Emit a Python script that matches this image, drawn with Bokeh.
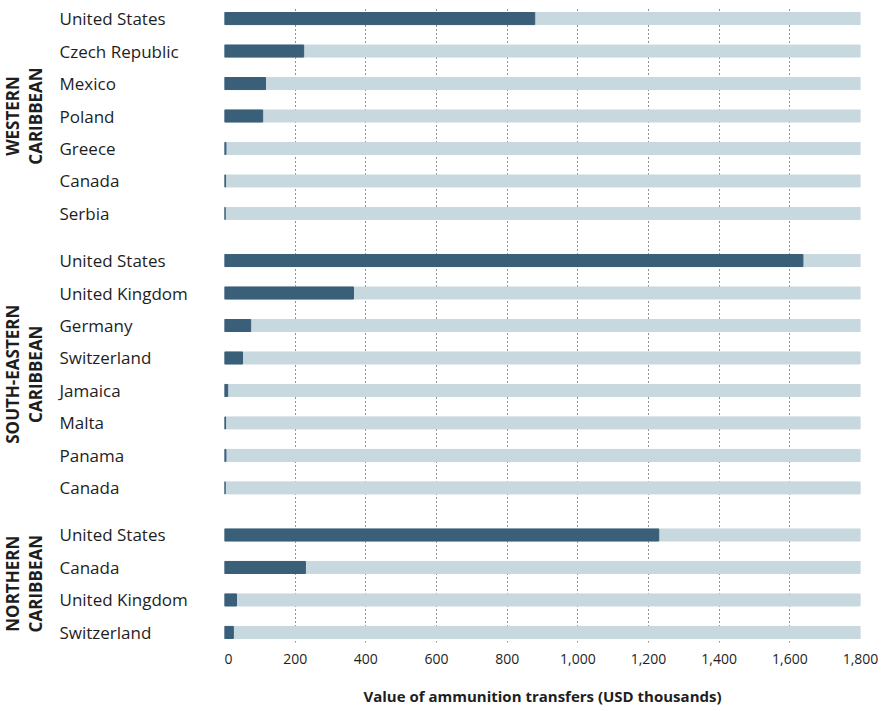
import math
from bokeh.plotting import figure
from bokeh.layouts import row
from bokeh.models import FactorRange, Range1d, ColumnDataSource, FixedTicker, NumeralTickFormatter
from bokeh.core.properties import value
from bokeh.embed import file_html
from bokeh.resources import INLINE

# ---------------- data ----------------
groups = ["WESTERN CARIBBEAN", "SOUTH-EASTERN CARIBBEAN", "NORTHERN CARIBBEAN"]
group_titles = ["WESTERN\nCARIBBEAN", "SOUTH-EASTERN\nCARIBBEAN", "NORTHERN\nCARIBBEAN"]

western_countries = ["United States", "Czech Republic", "Mexico", "Poland", "Greece", "Canada", "Serbia"]
western_values = [878, 224, 116, 108, 4, 3, 2]

southeast_countries = ["United States", "United Kingdom", "Germany", "Switzerland", "Jamaica", "Malta", "Panama", "Canada"]
southeast_values = [1637, 365, 74, 51, 9, 3, 4, 2]

northern_countries = ["United States", "Canada", "United Kingdom", "Switzerland"]
northern_values = [1229, 229, 34, 25]

axis_max = 1800
x_ticks = [0, 200, 400, 600, 800, 1000, 1200, 1400, 1600, 1800]
x_title = "Value of ammunition transfers (USD thousands)"

# ---------------- build ----------------
all_countries = [western_countries, southeast_countries, northern_countries]
all_values = [western_values, southeast_values, northern_values]

factors, vals, names = [], [], []
for g, cs, vs in zip(groups, all_countries, all_values):
    for c, v in zip(cs, vs):
        factors.append((g, c))
        vals.append(v)
        names.append(c)

# first factor is drawn at the bottom, so reverse
yr = FactorRange(factors=list(reversed(factors)), group_padding=0.45,
                 factor_padding=0.0, range_padding=-0.19, range_padding_units="absolute")

src = ColumnDataSource(dict(y=factors, v=vals, full=[axis_max] * len(vals), name=names))

DARK = "#3a5f78"
LIGHT = "#c8d8df"
TXT = "#1e1e1e"
FONT = "Open Sans"

H = 710
TOP = 8
BOTTOM = 68
LEFT_W = 224

# label panel
pl = figure(width=LEFT_W, height=H, x_range=Range1d(0, LEFT_W), y_range=yr,
            output_backend="svg", toolbar_location=None,
            x_axis_location=None, y_axis_location=None,
            min_border_left=0, min_border_right=0, min_border_top=TOP, min_border_bottom=BOTTOM)
pl.outline_line_color = None
pl.xgrid.visible = False
pl.ygrid.visible = False
pl.text(x=59, y="y", text="name", source=src, text_font=value(FONT), text_font_size="17px",
        text_color=TXT, text_align="left", text_baseline="middle")
gsrc = ColumnDataSource(dict(y=groups, t=group_titles))
pl.text(x=23.5, y="y", text="t", source=gsrc, angle=math.pi / 2, text_font=value(FONT),
        text_font_size="17px", text_font_style="bold", text_color=TXT,
        text_align="center", text_baseline="middle", text_line_height=1.04)

# bar panel
p = figure(width=656, height=H, x_range=Range1d(0, axis_max), y_range=yr,
           output_backend="svg", toolbar_location=None, y_axis_location=None,
           min_border_left=0, min_border_right=20, min_border_top=TOP, min_border_bottom=BOTTOM)
p.outline_line_color = None
p.ygrid.visible = False
p.xgrid.grid_line_color = "#222222"
p.xgrid.grid_line_dash = "1 3"
p.xgrid.grid_line_width = 1
p.hbar(y="y", left=0, right="full", height=0.37, color=LIGHT, source=src)
p.hbar(y="y", left=0, right="v", height=0.37, color=DARK, source=src)

ax = p.xaxis[0]
ax.ticker = FixedTicker(ticks=x_ticks)
ax.formatter = NumeralTickFormatter(format="0,0")
ax.axis_line_color = None
ax.major_tick_line_color = None
ax.minor_tick_line_color = None
ax.major_tick_out = 0
ax.major_tick_in = 0
ax.major_label_standoff = 11
ax.major_label_text_font = FONT
ax.major_label_text_font_size = "14px"
ax.major_label_text_color = TXT
ax.axis_label = x_title
ax.axis_label_standoff = 19
ax.axis_label_text_font = FONT
ax.axis_label_text_font_size = "15px"
ax.axis_label_text_font_style = "bold"
ax.axis_label_text_color = TXT

layout = row(pl, p)
open("out.html", "w").write(file_html(layout, INLINE))
